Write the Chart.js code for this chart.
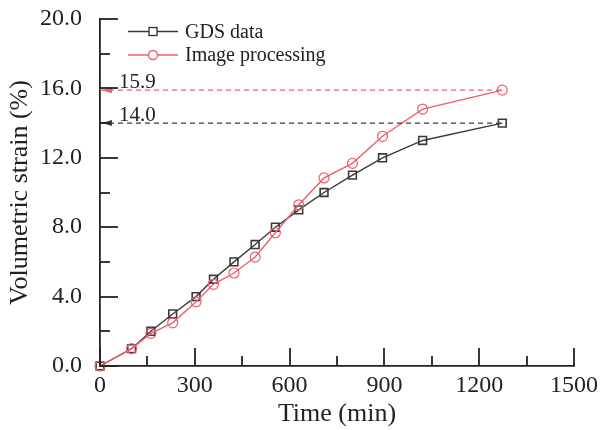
<!DOCTYPE html>
<html>
<head>
<meta charset="utf-8">
<script src="https://cdn.jsdelivr.net/npm/chart.js@4.4.0/dist/chart.umd.min.js"></script>
<style>
html, body { margin: 0; padding: 0; background: #fff; }
</style>
</head>
<body>
<canvas id="chart" width="603" height="430"></canvas>
<script>
// data
const gdsTime = [0, 100, 161, 230, 304, 359, 424, 491, 555, 629, 709, 799, 894, 1021, 1273];
const gdsStrain = [0, 1, 2, 3, 4, 5, 6, 7, 8, 9, 10, 11, 12, 13, 14];
const imgTime = [0, 100, 161, 230, 304, 359, 424, 491, 555, 629, 709, 799, 894, 1021, 1273];
const imgStrain = [0, 1, 1.88, 2.49, 3.7, 4.71, 5.36, 6.28, 7.68, 9.29, 10.84, 11.68, 13.24, 14.81, 15.9];
const finalLabels = ['15.9', '14.0'];
const finalValues = [15.9, 14.0];
const seriesNames = ['GDS data', 'Image processing'];

const BLACK = '#3a3a3a';
const RED = '#ec5f6b';
const FONT = '"Liberation Serif", "Times New Roman", serif';

const toPoints = (xs, ys) => xs.map((x, i) => ({ x, y: ys[i] }));

// inward major/minor ticks on both axes
const inwardTicks = {
    id: 'inwardTicks',
    afterDraw(chart) {
        const ctx = chart.ctx, a = chart.chartArea;
        const xs = chart.scales.x, ys = chart.scales.y;
        ctx.save();
        ctx.strokeStyle = '#222'; ctx.lineWidth = 1.8;
        xs.ticks.forEach(t => {
            const px = Math.round(xs.getPixelForValue(t.value));
            const len = t.value % 300 === 0 ? 18 : 10;
            ctx.beginPath(); ctx.moveTo(px, a.bottom); ctx.lineTo(px, a.bottom - len); ctx.stroke();
        });
        ys.ticks.forEach(t => {
            const py = Math.round(ys.getPixelForValue(t.value));
            const len = t.value % 4 === 0 ? 18 : 10;
            ctx.beginPath(); ctx.moveTo(a.left, py); ctx.lineTo(a.left + len, py); ctx.stroke();
        });
        ctx.restore();
    }
};

// final-value labels, arrowheads and the line+marker legend
const annotations = {
    id: 'annotations',
    afterDatasetsDraw(chart) {
        const ctx = chart.ctx, a = chart.chartArea;
        const xs = chart.scales.x, ys = chart.scales.y;
        const colors = [RED, BLACK];
        ctx.save();
        ctx.font = '21px ' + FONT;
        ctx.textAlign = 'left'; ctx.textBaseline = 'alphabetic';
        finalValues.forEach((v, i) => {
            const py = ys.getPixelForValue(v);
            ctx.fillStyle = colors[i];
            ctx.beginPath();
            ctx.moveTo(a.left + 2, py);
            ctx.lineTo(a.left + 12, py - 3);
            ctx.lineTo(a.left + 12, py + 3);
            ctx.closePath(); ctx.fill();
            ctx.fillStyle = '#222';
            ctx.fillText(finalLabels[i], xs.getPixelForValue(0) + 19, py - 2);
        });

        // legend
        const lx = a.left + 28, ly = a.top + 12.5, gap = 23.5;
        ctx.font = '20px ' + FONT;
        seriesNames.forEach((name, i) => {
            const y = ly + i * gap;
            const c = i === 0 ? BLACK : RED;
            ctx.strokeStyle = c; ctx.lineWidth = 1.4;
            ctx.beginPath(); ctx.moveTo(lx, y); ctx.lineTo(lx + 50, y); ctx.stroke();
            ctx.fillStyle = '#fff';
            if (i === 0) {
                ctx.fillRect(lx + 21, y - 4, 8, 8);
                ctx.strokeRect(lx + 21, y - 4, 8, 8);
            } else {
                ctx.beginPath(); ctx.arc(lx + 25, y, 4.5, 0, Math.PI * 2); ctx.fill(); ctx.stroke();
            }
            ctx.fillStyle = '#222';
            ctx.textBaseline = 'middle';
            ctx.fillText(name, lx + 57, y + 1);
        });
        ctx.restore();
    }
};

new Chart(document.getElementById('chart'), {
    type: 'scatter',
    data: {
        datasets: [
            {
                label: 'final image', data: [{ x: 0, y: finalValues[0] }, { x: imgTime[imgTime.length - 1], y: finalValues[0] }],
                showLine: true, borderColor: RED, borderWidth: 1.3, borderDash: [5, 4], pointRadius: 0,
            },
            {
                label: 'final gds', data: [{ x: 0, y: finalValues[1] }, { x: gdsTime[gdsTime.length - 1], y: finalValues[1] }],
                showLine: true, borderColor: BLACK, borderWidth: 1.3, borderDash: [5, 4], pointRadius: 0,
            },
            {
                label: seriesNames[1], data: toPoints(imgTime, imgStrain),
                showLine: true, borderColor: RED, borderWidth: 1.4, backgroundColor: 'rgba(0,0,0,0)',
                pointStyle: 'circle', pointRadius: 5, pointBorderWidth: 1.2, pointBackgroundColor: 'rgba(0,0,0,0)',
                clip: false,
            },
            {
                label: seriesNames[0], data: toPoints(gdsTime, gdsStrain),
                showLine: true, borderColor: BLACK, borderWidth: 1.4, backgroundColor: 'rgba(0,0,0,0)',
                pointStyle: 'rect', pointRadius: 5.5, pointBorderWidth: 1.6, pointBackgroundColor: 'rgba(0,0,0,0)',
                clip: false,
            },
        ],
    },
    options: {
        responsive: false,
        animation: false,
        layout: { padding: { left: 0, right: 29, top: 19, bottom: 0 } },
        plugins: { legend: { display: false }, tooltip: { enabled: false } },
        scales: {
            x: {
                type: 'linear', min: 0, max: 1500,
                afterFit: s => { s.height = 64; s.paddingLeft = 0; s.paddingRight = 0; },
                border: { display: true, color: '#222', width: 1.8 },
                grid: { display: true, drawOnChartArea: false, drawTicks: false },
                ticks: {
                    stepSize: 150, autoSkip: false, maxRotation: 0, padding: 5, color: '#222',
                    font: { family: FONT, size: 24 },
                    callback: v => (v % 300 === 0 ? String(v) : ''),
                },
                title: { display: true, text: 'Time (min)', color: '#222', font: { family: FONT, size: 26 }, padding: { top: 0, bottom: 0 } },
            },
            y: {
                type: 'linear', min: 0, max: 20,
                afterFit: s => { s.width = 100; s.paddingTop = 0; s.paddingBottom = 0; },
                border: { display: true, color: '#222', width: 1.8 },
                grid: { display: true, drawOnChartArea: false, drawTicks: false },
                ticks: {
                    stepSize: 2, autoSkip: false, padding: 18, color: '#222',
                    font: { family: FONT, size: 24 },
                    callback: v => (v % 4 === 0 ? v.toFixed(1) : ''),
                },
                title: { display: true, text: 'Volumetric strain (%)', color: '#222', font: { family: FONT, size: 26 }, padding: { top: 5, bottom: 0 } },
            },
        },
    },
    plugins: [inwardTicks, annotations],
});
</script>
</body>
</html>
